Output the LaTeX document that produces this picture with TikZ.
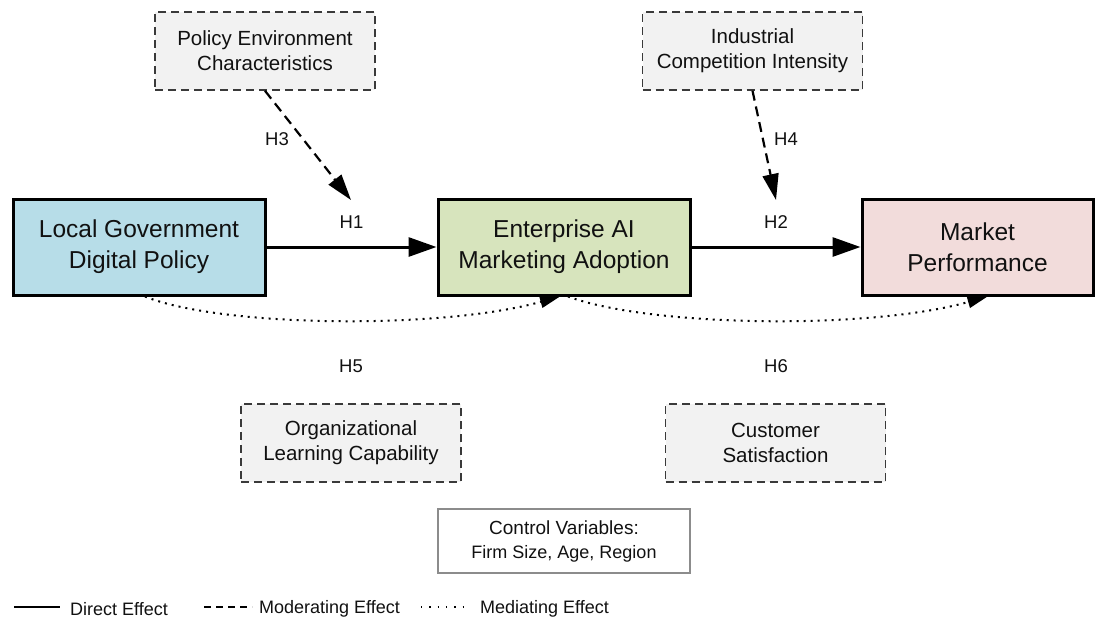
\documentclass[tikz,border=0pt]{standalone}
\usepackage{fontspec}
\setmainfont{Liberation Sans}
\usetikzlibrary{arrows.meta}
\definecolor{ink}{HTML}{111111}
\definecolor{blueF}{HTML}{B7DDE8}
\definecolor{greenF}{HTML}{D7E4BD}
\definecolor{pinkF}{HTML}{F2DCDB}
\definecolor{modF}{HTML}{F2F2F2}
\definecolor{modD}{HTML}{3A3A3A}
\definecolor{ctrlD}{HTML}{8C8C8C}
\begin{document}
\begin{tikzpicture}[x=1pt,y=-1pt,
  mainbox/.style={draw=black, line width=3pt, minimum width=252pt, minimum height=96pt,
    inner sep=0pt, align=center, text=ink, font=\fontsize{24.5}{31}\selectfont},
  modbox/.style={draw=modD, fill=modF, line width=1.6pt, dash pattern=on 8pt off 5pt,
    minimum width=220pt, minimum height=78pt, inner sep=0pt, align=center, text=ink,
    font=\fontsize{20.5}{25}\selectfont},
  ctrlbox/.style={draw=ctrlD, line width=1.4pt, minimum width=252pt, minimum height=64pt,
    inner sep=0pt, align=center, text=ink, font=\fontsize{19}{24}\selectfont},
  hlabel/.style={text=ink, font=\fontsize{18.5}{22}\selectfont, inner sep=0pt},
  direct/.style={line width=3pt, -{Triangle[length=28pt,width=19pt]}},
  moderate/.style={line width=2.2pt, dash pattern=on 10pt off 6pt,
    -{Triangle[length=26pt,width=16pt]}},
  mediate/.style={line width=2pt, dash pattern=on 2pt off 5pt,
    -{Triangle[length=20pt,width=12pt]}},
  legtext/.style={text=ink, font=\fontsize{18}{20}\selectfont, anchor=west, inner sep=0pt},
]
\useasboundingbox (0,0) rectangle (1105,621);

% core constructs
\node[mainbox, fill=blueF]  (lgdp) at (139,247)   {Local Government\\Digital Policy};
\node[mainbox, fill=greenF] (eama) at (564,247)   {Enterprise AI\\Marketing Adoption};
\node[mainbox, fill=pinkF, minimum width=231pt] (mp) at (977.5,247) {Market\\Performance};

% moderators
\node[modbox] (pec) at (265,51)   {Policy Environment\\Characteristics};
\node[modbox] (ici) at (752.5,51) {Industrial\\Competition Intensity};
\node[modbox] (olc) at (351,443)  {Organizational\\Learning Capability};
\node[modbox] (cs)  at (775.5,443) {Customer\\Satisfaction};

% controls
\node[ctrlbox] (ctrl) at (564,541)
  {Control Variables:\\{\fontsize{18}{24}\selectfont Firm Size, Age, Region}};

% direct effects
\draw[direct] (lgdp) -- (eama) node[hlabel, midway, above=17pt] (h1) {H1};
\draw[direct] (eama) -- (mp)   node[hlabel, midway, above=17pt] (h2) {H2};

% moderating effects aimed at the direct paths
\coordinate (m1) at (351,200);
\coordinate (m2) at (776,200);
\draw[moderate] (pec.south) -- (m1);
\draw[moderate] (ici.south) -- (m2);
\node[hlabel] (h3) at (277,139) {H3};
\node[hlabel] (h4) at (786,139) {H4};

% mediating effects
\draw[mediate] ([xshift=6pt]lgdp.south) .. controls (220,327) and (440,330) .. ([xshift=-4pt]eama.south);
\draw[mediate] ([xshift=4pt]eama.south) .. controls (650,327) and (870,330) .. ([xshift=10pt]mp.south);
\node[hlabel] (h5) at (351,366) {H5};
\node[hlabel] (h6) at (776,366) {H6};

% legend
\coordinate (l1a) at (14,607);  \coordinate (l1b) at (60,607);
\coordinate (l2a) at (204,607); \coordinate (l2b) at (252,607);
\coordinate (l3a) at (421,607); \coordinate (l3b) at (470,607);
\draw[line width=2.4pt] (l1a) -- (l1b);
\draw[line width=1.8pt, dash pattern=on 7pt off 5pt] (l2a) -- (l2b);
\draw[line width=1.3pt, dash pattern=on 1.3pt off 7pt] (l3a) -- (l3b);
\node[legtext] (lt1) at (70,609)  {Direct Effect};
\node[legtext] (lt2) at (259,609) {Moderating Effect};
\node[legtext] (lt3) at (480,609) {Mediating Effect};
\end{tikzpicture}
\end{document}
